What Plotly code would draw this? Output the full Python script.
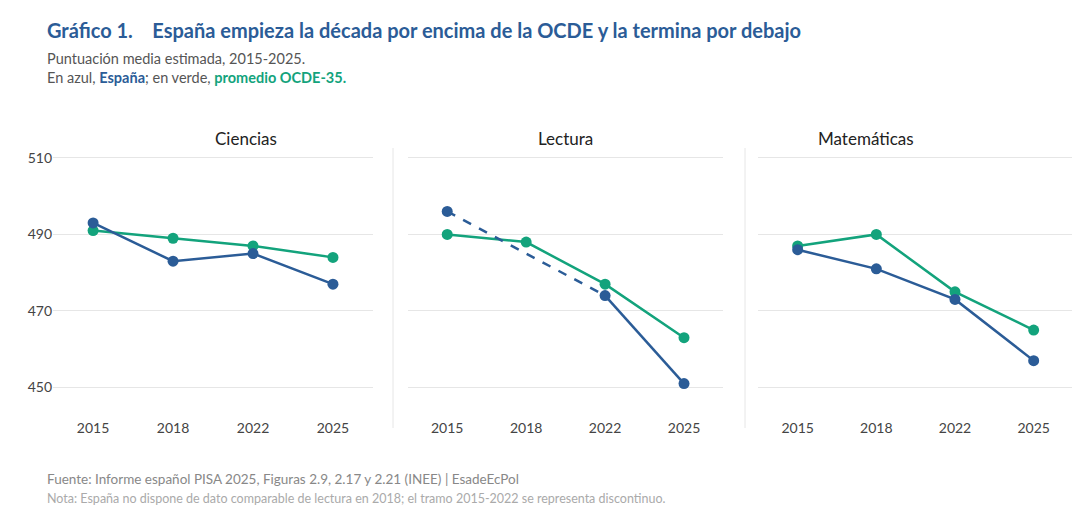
import plotly.graph_objects as go

years = ["2015", "2018", "2022", "2025"]
subjects = ["Ciencias", "Lectura", "Matemáticas"]
spain = {"Ciencias": [493, 483, 485, 477],
         "Lectura": [496, None, 474, 451],
         "Matemáticas": [486, 481, 473, 457]}
oecd = {"Ciencias": [491, 489, 487, 484],
        "Lectura": [490, 488, 477, 463],
        "Matemáticas": [487, 490, 475, 465]}
# label position: True = Spain above
spain_above = {"Ciencias": [True, False, False, False],
               "Lectura": [True, None, False, False],
               "Matemáticas": [False, False, False, False]}
yticks = [450, 470, 490, 510]

BLUE = "#2b5c97"
GREEN = "#13a37c"
FONT = "Lato"
W, H = 1080, 508
ML, MR, MT, MB = 40, 15, 140, 98
PW, PH = W - ML - MR, H - MT - MB

def px(x):
    return (x - ML) / PW

def py(y):
    return (H - MB - y) / PH

fig = go.Figure()
domains = [(0.005, 0.317), (0.351, 0.659), (0.693, 1.0)]
for i, s in enumerate(subjects):
    xa = "x" if i == 0 else f"x{i+1}"
    ya = "y" if i == 0 else f"y{i+1}"
    sp = spain[s]
    oc = oecd[s]
    fig.add_trace(go.Scatter(x=years, y=oc, xaxis=xa, yaxis=ya, mode="lines+markers",
                             line=dict(color=GREEN, width=2.5), marker=dict(size=11, color=GREEN),
                             showlegend=False, hoverinfo="skip"))
    if s == "Lectura":
        fig.add_trace(go.Scatter(x=[years[0], years[2]], y=[sp[0], sp[2]], xaxis=xa, yaxis=ya,
                                 mode="lines", line=dict(color=BLUE, width=2.5, dash="dash"),
                                 showlegend=False, hoverinfo="skip"))
        fig.add_trace(go.Scatter(x=years[2:], y=sp[2:], xaxis=xa, yaxis=ya, mode="lines",
                                 line=dict(color=BLUE, width=2.5), showlegend=False, hoverinfo="skip"))
        fig.add_trace(go.Scatter(x=[years[0]] + years[2:], y=[sp[0]] + sp[2:], xaxis=xa, yaxis=ya,
                                 mode="markers", marker=dict(size=11, color=BLUE),
                                 showlegend=False, hoverinfo="skip"))
    else:
        fig.add_trace(go.Scatter(x=years, y=sp, xaxis=xa, yaxis=ya, mode="lines+markers",
                                 line=dict(color=BLUE, width=2.5), marker=dict(size=11, color=BLUE),
                                 showlegend=False, hoverinfo="skip"))
    for j, yr in enumerate(years):
        up = spain_above[s][j]
        if sp[j] is not None:
            fig.add_annotation(x=yr, y=sp[j], xref=xa, yref=ya, text=str(sp[j]), showarrow=False,
                               yshift=22 if up else -23, font=dict(color=BLUE, size=15, family=FONT))
        fig.add_annotation(x=yr, y=oc[j], xref=xa, yref=ya, text=str(oc[j]), showarrow=False,
                           yshift=-23 if (up is True) else 22, font=dict(color=GREEN, size=15, family=FONT))
    fig.add_annotation(x=sum(domains[i]) / 2, y=py(118), xref="paper", yref="paper", text=s,
                       showarrow=False, font=dict(size=17, color="#222", family=FONT))
    axkw = dict(domain=list(domains[i]), range=[-0.5, 3.5], showgrid=False, zeroline=False,
                showline=False, ticks="", tickfont=dict(size=14, color="#444", family=FONT))
    yakw = dict(range=[442, 512.6], tickvals=yticks, showgrid=True, gridcolor="#e6e6e6",
                zeroline=False, showticklabels=(i == 0), tickfont=dict(size=14, color="#444", family=FONT))
    if i == 0:
        fig.update_layout(xaxis=dict(**axkw), yaxis=dict(**yakw))
    else:
        fig.update_layout(**{f"xaxis{i+1}": dict(anchor=ya, **axkw),
                             f"yaxis{i+1}": dict(anchor=xa, **yakw)})

for xp in [385, 737]:
    fig.add_shape(type="line", xref="paper", yref="paper", x0=px(xp), x1=px(xp), y0=py(420), y1=py(140),
                  line=dict(color="#e6e6e6", width=1))

texts = [
    (22, "<b>Gráfico 1.    España empieza la década por encima de la OCDE y la termina por debajo</b>", 20, BLUE),
    (51, "Puntuación media estimada, 2015-2025.", 14.5, "#555"),
    (70, f"En azul, <b><span style='color:{BLUE}'>España</span></b>; en verde, <b><span style='color:{GREEN}'>promedio OCDE-35.</span></b>", 14.5, "#555"),
    (471, "Fuente: Informe español PISA 2025, Figuras 2.9, 2.17 y 2.21 (INEE) | EsadeEcPol", 13.5, "#888"),
    (490, "Nota: España no dispone de dato comparable de lectura en 2018; el tramo 2015-2022 se representa discontinuo.", 12.5, "#aaa"),
]
for ypx, t, sz, c in texts:
    fig.add_annotation(x=px(37), y=py(ypx), xref="paper", yref="paper", text=t,
                       showarrow=False, xanchor="left", yanchor="middle",
                       font=dict(size=sz, color=c, family=FONT))

fig.update_layout(width=W, height=H, margin=dict(l=ML, r=MR, t=MT, b=MB),
                  plot_bgcolor="white", paper_bgcolor="white", font=dict(family=FONT))
fig.write_html("out.html")
